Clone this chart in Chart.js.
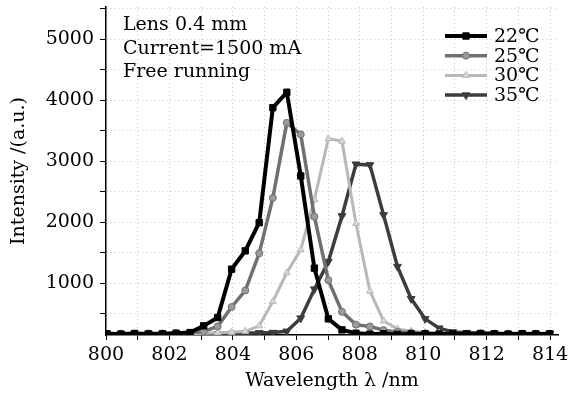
<!DOCTYPE html>
<html>
<head>
<meta charset="utf-8">
<script src="https://cdn.jsdelivr.net/npm/chart.js@4/dist/chart.umd.min.js"></script>
<style>
html,body{margin:0;padding:0;background:#fff;}
#wrap{width:568px;height:394px;position:relative;}
</style>
</head>
<body>
<div id="wrap"><canvas id="c" width="568" height="394"></canvas></div>
<script>
const wavelengths = [800.03,800.47,800.90,801.34,801.78,802.21,802.65,803.08,803.52,803.96,804.39,804.83,805.26,805.70,806.14,806.57,807.01,807.44,807.88,808.32,808.75,809.19,809.62,810.06,810.50,810.93,811.37,811.81,812.24,812.68,813.12,813.55,813.99];
const seriesNames = ['22\u2103','25\u2103','30\u2103','35\u2103'];
const s22 = [170,165,175,168,172,180,190,300,436,1230,1530,1993,3879,4131,2759,1246,415,234,180,165,170,160,168,172,165,170,168,175,170,165,172,168,170];
const s25 = [165,172,168,175,170,178,185,210,290,610,880,1490,2400,3630,3440,2090,1050,530,320,290,230,200,185,175,170,172,168,175,170,165,170,172,168];
const s30 = [170,168,172,165,175,170,172,178,185,195,210,300,700,1170,1550,2370,3370,3330,1980,870,380,250,210,190,180,175,170,172,168,175,170,168,172];
const s35 = [168,170,165,172,170,168,175,170,172,175,180,185,190,210,426,902,1354,2103,2951,2940,2120,1272,745,415,262,200,185,178,175,170,172,168,170];
const xTickValues = [800,801,802,803,804,805,806,807,808,809,810,811,812,813,814];
const xTickLabels = ['800','','802','','804','','806','','808','','810','','812','','814'];
const yTickValues = [500,1000,1500,2000,2500,3000,3500,4000,4500,5000,5500];
const yTickLabels = ['','1000','','2000','','3000','','4000','','5000',''];
const annotationLines = ['Lens 0.4 mm','Current=1500 mA','Free running'];
const xTitle = 'Wavelength \u03bb /nm';
const yTitle = 'Intensity /(a.u.)';

const serif = "'DejaVu Serif', 'Liberation Serif', serif";
const styles = [
  {color:'#000000', width:4,   style:'rect',     rot:0,   r:4.5, bg:'#000000'},
  {color:'#707070', width:3.5, style:'circle',   rot:0,   r:3.5, bg:'#9a9a9a'},
  {color:'#b8b8b8', width:3,   style:'triangle', rot:0,   r:4,   bg:'#d8d8d8'},
  {color:'#3c3c3c', width:3.5, style:'triangle', rot:180, r:4.5, bg:'#3c3c3c'}
];
const seriesData = [s22, s25, s30, s35];

const datasets = seriesData.map((vals, i) => ({
  label: seriesNames[i],
  data: wavelengths.map((w, j) => ({x: w, y: vals[j]})),
  borderColor: styles[i].color,
  borderWidth: styles[i].width,
  pointStyle: styles[i].style,
  rotation: styles[i].rot,
  pointRadius: styles[i].r,
  pointBackgroundColor: styles[i].bg,
  pointBorderColor: styles[i].color,
  pointBorderWidth: 1,
  tension: 0,
  fill: false
}));

const extras = {
  id: 'extras',
  afterDraw(chart) {
    const ctx = chart.ctx;
    ctx.save();
    ctx.fillStyle = '#000';
    ctx.font = "19px " + serif;
    ctx.textBaseline = 'alphabetic';
    ctx.textAlign = 'left';
    annotationLines.forEach((t, i) => ctx.fillText(t, 123, 30 + i * 23.5));
    datasets.forEach((ds, i) => {
      const y = 36 + i * 19.7;
      ctx.strokeStyle = ds.borderColor;
      ctx.lineWidth = ds.borderWidth;
      ctx.beginPath(); ctx.moveTo(445, y); ctx.lineTo(487, y); ctx.stroke();
      ctx.fillStyle = ds.pointBackgroundColor;
      ctx.strokeStyle = ds.pointBorderColor;
      ctx.lineWidth = 1;
      Chart.helpers.drawPoint(ctx, {pointStyle: ds.pointStyle, rotation: ds.rotation, radius: ds.pointRadius, borderWidth: 1}, 466, y);
      ctx.fillStyle = '#000';
      ctx.font = "19px " + serif;
      ctx.textBaseline = 'middle';
      ctx.fillText(ds.label, 494, y + 1);
    });
    ctx.restore();
  }
};

new Chart(document.getElementById('c'), {
  type: 'line',
  data: {datasets},
  options: {
    responsive: false,
    animation: false,
    devicePixelRatio: 1,
    layout: {padding: {top: 7, right: 10, left: 0, bottom: 0}},
    plugins: {legend: {display: false}, tooltip: {enabled: false}},
    scales: {
      x: {
        type: 'linear', min: 800, max: 814.25,
        afterBuildTicks: s => { s.ticks = xTickValues.map(v => ({value: v})); },
        afterFit: s => { s.height = 59; s.paddingRight = 0; s.paddingLeft = 0; },
        ticks: {
          autoSkip: false, maxRotation: 0,
          color: '#000', font: {family: serif, size: 19}, padding: 4,
          callback: (v, i) => xTickLabels[i]
        },
        grid: {color: '#c8c8c8', lineWidth: 1, tickColor: '#000', tickLength: 5, drawTicks: true},
        border: {display: true, color: '#000', width: 1.5, dash: [1, 3]},
        title: {display: true, text: xTitle, color: '#000', font: {family: serif, size: 19}, padding: {top: 0, bottom: 2}}
      },
      y: {
        type: 'linear', min: 150, max: 5530,
        afterBuildTicks: s => { s.ticks = yTickValues.map(v => ({value: v})); },
        afterFit: s => { s.width = 106; s.paddingTop = 0; s.paddingBottom = 0; },
        ticks: {
          autoSkip: false,
          color: '#000', font: {family: serif, size: 19}, padding: 6,
          callback: (v, i) => yTickLabels[i]
        },
        grid: {color: '#c8c8c8', lineWidth: 1, tickColor: '#000', tickLength: 6, drawTicks: true},
        border: {display: true, color: '#000', width: 1.5, dash: [1, 3]},
        title: {display: true, text: yTitle, color: '#000', font: {family: serif, size: 19}, padding: {top: 8, bottom: 0}}
      }
    }
  },
  plugins: [extras]
});
</script>
</body>
</html>
